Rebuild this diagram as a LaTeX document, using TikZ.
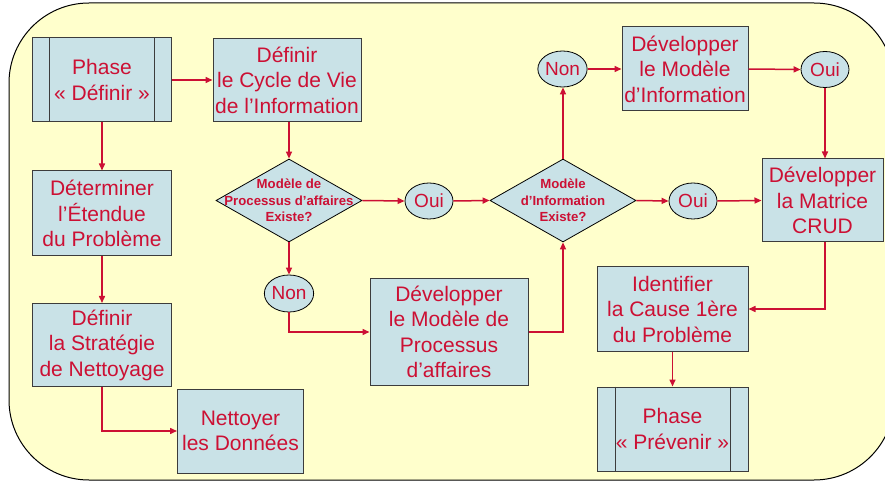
\documentclass[tikz,border=0pt]{standalone}
\usepackage{fontspec}
\setmainfont{Liberation Sans}
\usetikzlibrary{shapes.geometric,arrows.meta}
\definecolor{txtred}{RGB}{204,16,52}
\definecolor{boxfill}{RGB}{201,226,231}
\definecolor{bgyellow}{RGB}{255,255,204}
\definecolor{boxline}{RGB}{60,60,60}
\tikzset{
  box/.style={draw=boxline,line width=1bp,fill=boxfill,rectangle,inner sep=0pt,align=center,text=txtred,font=\fontsize{21bp}{25.5bp}\selectfont},
  oval/.style={draw=black,line width=0.8bp,fill=boxfill,ellipse,inner sep=0pt,minimum width=48bp,minimum height=36bp,text=txtred,font=\fontsize{19bp}{22bp}\selectfont},
  dia/.style={draw=black,line width=0.8bp,fill=boxfill,diamond,inner sep=0pt,minimum width=146bp,minimum height=83bp},
  diatext/.style={align=center,text=txtred,font=\bfseries\fontsize{13.2bp}{16.5bp}\selectfont},
  conn/.style={draw=txtred,line width=1.5bp,-{Triangle[length=7bp,width=6bp]}},
  inner/.style={draw=boxline,line width=1.2bp}
}
\begin{document}
\begin{tikzpicture}[x=1bp,y=-1bp]
\useasboundingbox (0,0) rectangle (885,481);
\clip (0,0) rectangle (885,481);
\draw[fill=bgyellow,line width=1bp,rounded corners=80bp] (9,3) rectangle (894,480);

\node[box,minimum width=138bp,minimum height=84bp] (phaseD) at (102,80) {Phase\\« Définir »};
\draw[inner] ([xshift=17bp]phaseD.north west) -- ([xshift=17bp]phaseD.south west);
\draw[inner] ([xshift=-17bp]phaseD.north east) -- ([xshift=-17bp]phaseD.south east);
\node[box,minimum width=148bp,minimum height=83bp] (cycle) at (287,80) {Définir\\le Cycle de Vie\\de l’Information};
\node[box,minimum width=139bp,minimum height=85bp] (etendue) at (102,213.5) {Déterminer\\l’Étendue\\du Problème};
\node[box,minimum width=139bp,minimum height=83bp] (strat) at (102,345) {Définir\\la Stratégie\\de Nettoyage};
\node[box,minimum width=126bp,minimum height=84bp] (nett) at (240.5,431) {Nettoyer\\les Données};

\node[dia] (d1) at (289,200.5) {};
\node[diatext] (d1t) at (d1.center) {Modèle de\\Processus d’affaires\\Existe?};
\node[oval] (oui1) at (429,201) {Oui};
\node[oval,minimum height=37bp] (non1) at (289,293.5) {Non};
\node[box,minimum width=158bp,minimum height=106bp] (proc) at (449,332) {Développer\\le Modèle de\\Processus\\d’affaires};

\node[dia] (d2) at (563,200.5) {};
\node[diatext] (d2t) at (d2.center) {Modèle\\d’Information\\Existe?};
\node[oval] (oui2) at (693,201) {Oui};
\node[oval] (non2) at (562.5,69) {Non};
\node[box,minimum width=126bp,minimum height=84bp] (info) at (685,69) {Développer\\le Modèle\\d’Information};
\node[oval] (oui3) at (825,69.5) {Oui};
\node[box,minimum width=121bp,minimum height=83bp] (crud) at (822.5,200.5) {Développer\\la Matrice\\CRUD};
\node[box,minimum width=151bp,minimum height=84bp] (ident) at (672.5,309) {Identifier\\la Cause 1ère\\du Problème};
\node[box,minimum width=151bp,minimum height=84bp] (prev) at (672.5,429) {Phase\\« Prévenir »};
\draw[inner] ([xshift=19bp]prev.north west) -- ([xshift=19bp]prev.south west);
\draw[inner] ([xshift=-18bp]prev.north east) -- ([xshift=-18bp]prev.south east);

\draw[conn] (phaseD.east) -- (cycle.west);
\draw[conn] (phaseD.south) -- (etendue.north);
\draw[conn] (etendue.south) -- (strat.north);
\draw[conn] (strat.south) |- (nett.west);
\draw[conn] (cycle.south -| d1.north) -- (d1.north);
\draw[conn] (d1.east) -- (oui1.west);
\draw[conn] (oui1.east) -- (d2.west);
\draw[conn] (d1.south) -- (non1.north);
\draw[conn] (non1.south) |- (proc.west);
\draw[conn] (proc.east) -| (d2.south);
\draw[conn] (d2.north) -- (non2.south -| d2.north);
\draw[conn] (non2.east) -- (info.west);
\draw[conn] (info.east) -- (oui3.west);
\draw[conn] (oui3.south) -- (oui3.south |- crud.north);
\draw[conn] (d2.east) -- (oui2.west);
\draw[conn] (oui2.east) -- (crud.west);
\draw[conn] (crud.south -| oui3.south) |- (ident.east);
\draw[conn] (ident.south) -- (prev.north);
\end{tikzpicture}
\end{document}
